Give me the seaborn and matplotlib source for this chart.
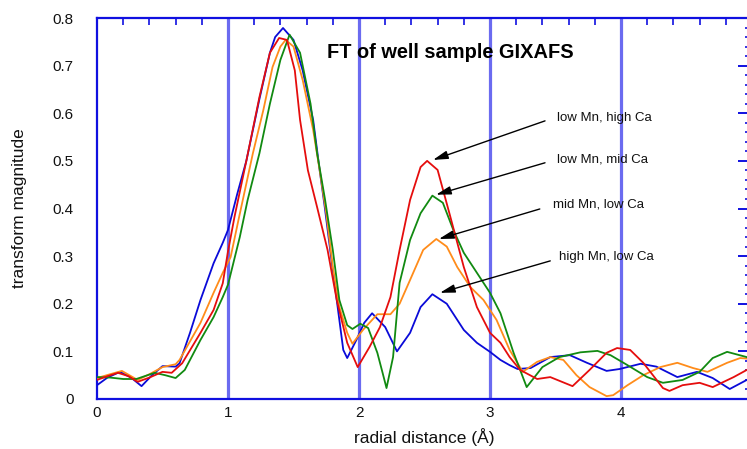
import numpy as np
import pandas as pd
import matplotlib
matplotlib.use("Agg")
import matplotlib.pyplot as plt
from matplotlib.ticker import MultipleLocator
import seaborn as sns

# ---------------- data ----------------
blue_x = [0, 0.08, 0.175, 0.26, 0.34, 0.42, 0.5, 0.6, 0.63, 0.71, 0.79, 0.89, 0.96, 1.0, 1.07, 1.14,
          1.24, 1.32, 1.36, 1.42, 1.50, 1.57, 1.65, 1.70, 1.74, 1.78, 1.83, 1.88, 1.91, 1.98, 2.04, 2.10,
          2.2, 2.29, 2.39, 2.47, 2.56, 2.67, 2.80, 2.90, 3.0, 3.08, 3.15, 3.21, 3.31, 3.46, 3.61, 3.74,
          3.89, 3.99, 4.15, 4.27, 4.43, 4.58, 4.70, 4.83, 4.96, 5.0]
blue_y = [0.029, 0.045, 0.057, 0.045, 0.027, 0.050, 0.069, 0.068, 0.075, 0.139, 0.208, 0.285, 0.328, 0.355,
          0.43, 0.50, 0.63, 0.727, 0.76, 0.779, 0.754, 0.69, 0.586, 0.48, 0.40, 0.313, 0.208, 0.103, 0.086,
          0.124, 0.160, 0.18, 0.151, 0.10, 0.139, 0.193, 0.22, 0.20, 0.145, 0.118, 0.099, 0.082, 0.071,
          0.063, 0.065, 0.088, 0.092, 0.076, 0.059, 0.063, 0.074, 0.068, 0.046, 0.057, 0.044, 0.021,
          0.040, 0.045]

red_x = [0, 0.08, 0.16, 0.24, 0.31, 0.40, 0.50, 0.57, 0.65, 0.79, 0.89, 0.96, 1.0, 1.05, 1.14, 1.24,
         1.32, 1.39, 1.45, 1.51, 1.55, 1.61, 1.68, 1.76, 1.83, 1.91, 1.99, 2.08, 2.16, 2.24, 2.31, 2.39,
         2.47, 2.52, 2.60, 2.69, 2.80, 2.90, 3.0, 3.08, 3.15, 3.23, 3.36, 3.46, 3.63, 3.76, 3.89, 3.97,
         4.07, 4.17, 4.32, 4.37, 4.47, 4.60, 4.70, 4.86, 4.96, 5.0]
red_y = [0.040, 0.048, 0.055, 0.048, 0.036, 0.045, 0.057, 0.055, 0.075, 0.139, 0.187, 0.243, 0.31,
         0.383, 0.50, 0.634, 0.727, 0.758, 0.754, 0.69, 0.586, 0.48, 0.403, 0.313, 0.208, 0.118, 0.067,
         0.109, 0.151, 0.214, 0.313, 0.418, 0.487, 0.50, 0.481, 0.39, 0.277, 0.193, 0.139, 0.118, 0.088,
         0.061, 0.042, 0.046, 0.027, 0.061, 0.097, 0.107, 0.103, 0.076, 0.023, 0.017, 0.029, 0.034,
         0.025, 0.046, 0.061, 0.065]

green_x = [0, 0.1, 0.2, 0.3, 0.44, 0.52, 0.6, 0.67, 0.79, 0.89, 0.96, 1.0, 1.09, 1.15, 1.24, 1.32,
           1.40, 1.47, 1.55, 1.63, 1.68, 1.74, 1.80, 1.85, 1.91, 1.95, 2.01, 2.07, 2.14, 2.18, 2.21,
           2.26, 2.31, 2.39, 2.47, 2.56, 2.64, 2.72, 2.80, 2.90, 3.0, 3.08, 3.18, 3.28, 3.40, 3.53,
           3.69, 3.82, 3.92, 4.05, 4.20, 4.32, 4.47, 4.60, 4.70, 4.81, 4.96, 5.0]
green_y = [0.046, 0.045, 0.042, 0.042, 0.055, 0.05, 0.044, 0.061, 0.124, 0.172, 0.214, 0.24, 0.34,
           0.418, 0.516, 0.62, 0.712, 0.765, 0.727, 0.62, 0.516, 0.42, 0.313, 0.208, 0.155, 0.147,
           0.158, 0.149, 0.097, 0.055, 0.023, 0.088, 0.244, 0.334, 0.39, 0.427, 0.412, 0.355, 0.307,
           0.265, 0.223, 0.18, 0.097, 0.025, 0.067, 0.088, 0.098, 0.101, 0.092, 0.071, 0.046, 0.034,
           0.040, 0.057, 0.086, 0.099, 0.088, 0.085]

orange_x = [0, 0.1, 0.19, 0.31, 0.4, 0.5, 0.6, 0.63, 0.79, 0.89, 0.96, 1.02, 1.08, 1.19, 1.27, 1.34,
            1.40, 1.44, 1.50, 1.57, 1.65, 1.70, 1.75, 1.80, 1.85, 1.91, 1.95, 2.03, 2.14, 2.24, 2.31,
            2.39, 2.49, 2.59, 2.67, 2.75, 2.85, 2.95, 3.05, 3.15, 3.25, 3.36, 3.46, 3.56, 3.66, 3.76,
            3.89, 3.94, 4.05, 4.17, 4.30, 4.43, 4.55, 4.66, 4.81, 4.91, 5.0]
orange_y = [0.044, 0.052, 0.059, 0.04, 0.052, 0.067, 0.073, 0.082, 0.16, 0.223, 0.265, 0.298, 0.376,
            0.516, 0.607, 0.697, 0.74, 0.754, 0.74, 0.67, 0.565, 0.48, 0.39, 0.277, 0.193, 0.139, 0.116,
            0.145, 0.178, 0.178, 0.20, 0.25, 0.313, 0.336, 0.32, 0.277, 0.235, 0.208, 0.166, 0.103,
            0.057, 0.078, 0.088, 0.082, 0.050, 0.025, 0.006, 0.008, 0.029, 0.050, 0.067, 0.076, 0.065,
            0.057, 0.076, 0.086, 0.084]

series_names = ["high Mn, low Ca", "mid Mn, low Ca", "low Mn, mid Ca", "low Mn, high Ca"]
series_colors = ["#0a0ad8", "#ff8c1a", "#118a11", "#e50d0d"]

label_text = ["low Mn, high Ca", "low Mn, mid Ca", "mid Mn, low Ca", "high Mn, low Ca"]
label_xy = [(3.51, 0.590), (3.51, 0.502), (3.48, 0.408), (3.53, 0.298)]
arrow_tail = [(3.42, 0.584), (3.42, 0.496), (3.38, 0.399), (3.46, 0.290)]
arrow_head = [(2.565, 0.502), (2.588, 0.429), (2.61, 0.336), (2.618, 0.223)]

title_text = "FT of well sample GIXAFS"
x_label = "radial distance (Å)"
y_label = "transform magnitude"
x_ticks = [0, 1, 2, 3, 4, 5]
y_ticks = [0, 0.1, 0.2, 0.3, 0.4, 0.5, 0.6, 0.7, 0.8]
grid_x = [1, 2, 3, 4]

# ---------------- build long table ----------------
frames = []
for name, xs, ys in zip(series_names, [blue_x, orange_x, green_x, red_x],
                        [blue_y, orange_y, green_y, red_y]):
    frames.append(pd.DataFrame({"r": xs, "mag": ys, "series": name}))
df = pd.concat(frames, ignore_index=True)

sns.set_style("white")
plt.rcParams["font.family"] = ["Liberation Sans", "DejaVu Sans"]

fig = plt.figure(figsize=(7.47, 4.49), dpi=100)
ax = fig.add_axes([97 / 747, 1 - 399 / 449, 655 / 747, 381 / 449])

axis_blue = "#1010e0"
for gx in grid_x:
    ax.axvline(gx, color="#6b6bf0", lw=2.3, zorder=1)

sns.lineplot(data=df, x="r", y="mag", hue="series", hue_order=series_names,
             palette=dict(zip(series_names, series_colors)), estimator=None, sort=False,
             legend=False, lw=1.3, ax=ax, zorder=3)

ax.set_xlim(0, 5)
ax.set_ylim(0, 0.8)
ax.set_xticks(x_ticks)
ax.set_yticks(y_ticks)
ax.set_yticklabels(["0" if v == 0 else f"{v:.1f}" for v in y_ticks])
ax.xaxis.set_minor_locator(MultipleLocator(0.2))
ax.yaxis.set_minor_locator(MultipleLocator(0.02))

for s in ax.spines.values():
    s.set_color(axis_blue)
    s.set_linewidth(1.6)
    s.set_visible(True)

ax.tick_params(which="both", direction="in", top=True, right=True, color=axis_blue,
               labelcolor="#111111", labelsize=11)
ax.tick_params(which="major", length=10, width=1.4)
ax.tick_params(which="minor", length=5, width=1.2)
ax.tick_params(axis="y", which="major", pad=17)
ax.tick_params(axis="x", which="major", pad=5)

ax.set_xlabel(x_label, fontsize=12.5, color="#111111", labelpad=6)
ax.set_ylabel(y_label, fontsize=12.5, color="#111111", labelpad=18)

ax.text(1.756, 0.727, title_text, fontsize=14.4, fontweight="bold", ha="left", va="center",
        color="#000000", zorder=5)

for txt, (tx, ty), tail, head in zip(label_text, label_xy, arrow_tail, arrow_head):
    ax.text(tx, ty, txt, fontsize=9.5, ha="left", va="center", color="#111111", zorder=5)
    ax.annotate("", xy=head, xytext=tail,
                arrowprops=dict(arrowstyle="-|>,head_length=0.9,head_width=0.25",
                                color="black", lw=1.0, shrinkA=0, shrinkB=0),
                zorder=6)

fig.savefig("out.png", dpi=100)
